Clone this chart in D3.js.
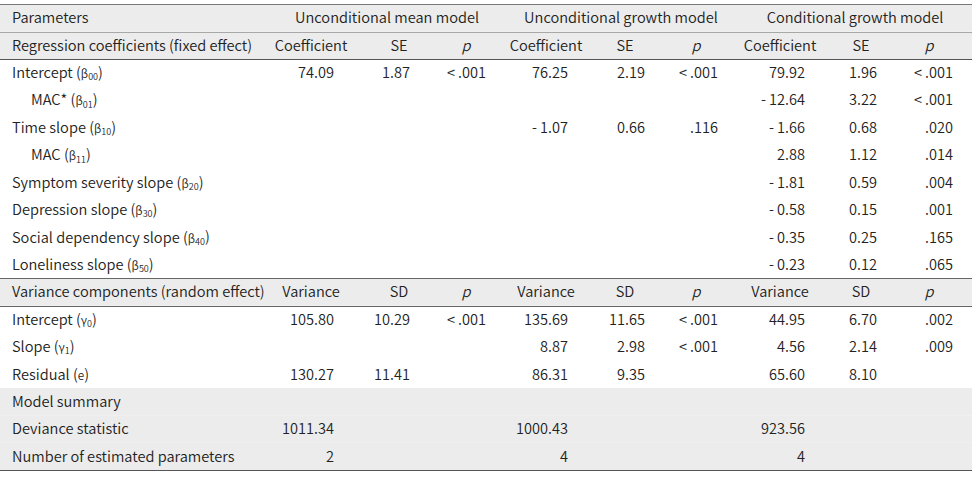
<!DOCTYPE html>
<html><head><meta charset="utf-8">
<script src="https://cdn.jsdelivr.net/npm/d3@7"></script>
<style>
html,body{margin:0;padding:0;background:#fff;}
svg text{font-family:"Noto Sans CJK KR","Noto Sans",sans-serif;fill:#222;font-weight:350;}
</style></head>
<body><svg id="t" width="972" height="477"></svg>
<script>
// ---- data ----
const groups = ["Unconditional mean model", "Unconditional growth model", "Conditional growth model"];
const fixedHeaders = ["Coefficient", "SE", "p"];
const randomHeaders = ["Variance", "SD", "p"];
const sectionLabels = ["Parameters", "Regression coefficients (fixed effect)", "Variance components (random effect)", "Model summary"];

const fixedLabels = ["Intercept", "MAC*", "Time slope", "MAC", "Symptom severity slope", "Depression slope", "Social dependency slope", "Loneliness slope"];
const fixedSymbols = ["β", "β", "β", "β", "β", "β", "β", "β"];
const fixedSubs = ["00", "01", "10", "11", "20", "30", "40", "50"];
const fixedIndent = [0, 1, 0, 1, 0, 0, 0, 0];
const fixedMean = [["74.09", "1.87", "<.001"], ["", "", ""], ["", "", ""], ["", "", ""], ["", "", ""], ["", "", ""], ["", "", ""], ["", "", ""]];
const fixedGrowth = [["76.25", "2.19", "<.001"], ["", "", ""], ["-1.07", "0.66", ".116"], ["", "", ""], ["", "", ""], ["", "", ""], ["", "", ""], ["", "", ""]];
const fixedCond = [["79.92", "1.96", "<.001"], ["-12.64", "3.22", "<.001"], ["-1.66", "0.68", ".020"], ["2.88", "1.12", ".014"], ["-1.81", "0.59", ".004"], ["-0.58", "0.15", ".001"], ["-0.35", "0.25", ".165"], ["-0.23", "0.12", ".065"]];

const randomLabels = ["Intercept", "Slope", "Residual"];
const randomSymbols = ["γ", "γ", "e"];
const randomSubs = ["0", "1", ""];
const randomMean = [["105.80", "10.29", "<.001"], ["", "", ""], ["130.27", "11.41", ""]];
const randomGrowth = [["135.69", "11.65", "<.001"], ["8.87", "2.98", "<.001"], ["86.31", "9.35", ""]];
const randomCond = [["44.95", "6.70", ".002"], ["4.56", "2.14", ".009"], ["65.60", "8.10", ""]];

const summaryLabels = ["Deviance statistic", "Number of estimated parameters"];
const summaryValues = [["1011.34", "1000.43", "923.56"], ["2", "4", "4"]];

// ---- layout ----
const svg = d3.select("#t");
const nRows = 2 + fixedLabels.length + 1 + randomLabels.length + 1 + summaryLabels.length;
const y = d3.scaleBand().domain(d3.range(nRows)).range([4.3, 470.2]);
const labelX = 12, indentX = 31;
// right edges of value columns, and centers of header labels
const valueRight = [334, 410, 486, 568, 645, 718, 805, 877, 953];
const headCenter = [311, 399, 466, 546, 625, 696, 780, 861, 929];
const groupCenter = [387, 621, 855];
const FS = 14.6;

function fmt(v) {
  if (v.startsWith("-")) return "-\u2009" + v.slice(1);
  if (v.startsWith("<")) return "<\u2009" + v.slice(1);
  return v;
}

// backgrounds
const grayRows = [0, 1, 2 + fixedLabels.length, nRows - 3, nRows - 2, nRows - 1];
svg.selectAll("rect.bg").data(grayRows).join("rect")
  .attr("x", 0).attr("width", 972)
  .attr("y", d => y(d)).attr("height", y.bandwidth())
  .attr("fill", "#ececec");

const yAt = i => (i >= nRows ? y.range()[1] : y(i));
const cy = i => y(i) + y.bandwidth() / 2;

function label(i, text, sym, sub, indent) {
  const t = svg.append("text").attr("x", indent ? indentX : labelX).attr("y", cy(i))
    .attr("dy", "0.36em").attr("font-size", FS).text(text);
  if (sym) {
    t.append("tspan").text(" (");
    t.append("tspan").attr("font-size", FS * 0.8).text(sym);
    if (sub) t.append("tspan").attr("font-size", FS * 0.62).attr("dy", "0.25em").text(sub);
    t.append("tspan").attr("dy", sub ? "-0.16em" : null).text(")");
  }
}

// header row 0
label(0, sectionLabels[0]);
svg.selectAll("text.grp").data(groups).join("text")
  .attr("x", (d, i) => groupCenter[i]).attr("y", cy(0)).attr("dy", "0.36em")
  .attr("text-anchor", "middle").attr("font-size", FS).text(d => d);

function headers(i, hdrs) {
  const all = [...hdrs, ...hdrs, ...hdrs];
  svg.selectAll(null).data(all).join("text")
    .attr("x", (d, k) => headCenter[k]).attr("y", cy(i)).attr("dy", "0.36em")
    .attr("text-anchor", "middle").attr("font-size", FS)
    .attr("font-style", d => d === "p" ? "italic" : null)
    .text(d => d);
}
function values(i, vals) {
  svg.selectAll(null).data(vals).join("text")
    .attr("x", (d, k) => valueRight[k]).attr("y", cy(i)).attr("dy", "0.36em")
    .attr("text-anchor", "end").attr("font-size", FS)
    .text(d => fmt(d));
}

label(1, sectionLabels[1]);
headers(1, fixedHeaders);
fixedLabels.forEach((l, k) => {
  const i = 2 + k;
  label(i, l, fixedSymbols[k], fixedSubs[k], fixedIndent[k]);
  values(i, [...fixedMean[k], ...fixedGrowth[k], ...fixedCond[k]]);
});
const rv = 2 + fixedLabels.length;
label(rv, sectionLabels[2]);
headers(rv, randomHeaders);
randomLabels.forEach((l, k) => {
  const i = rv + 1 + k;
  label(i, l, randomSymbols[k], randomSubs[k], 0);
  values(i, [...randomMean[k], ...randomGrowth[k], ...randomCond[k]]);
});
const ms = rv + 1 + randomLabels.length;
label(ms, sectionLabels[3]);
summaryLabels.forEach((l, k) => {
  const i = ms + 1 + k;
  label(i, l);
  const v = summaryValues[k];
  values(i, [v[0], "", "", v[1], "", "", v[2], "", ""]);
});

// rules
const rules = [
  {r: 0, c: "#777"}, {r: 1, c: "#a8a8a8"}, {r: 2, c: "#555"},
  {r: rv, c: "#666"}, {r: rv + 1, c: "#666"}, {r: nRows, c: "#555"}
];
svg.selectAll("line.rule").data(rules).join("line")
  .attr("x1", 0).attr("x2", 972)
  .attr("y1", d => Math.round(yAt(d.r)) + 0.5).attr("y2", d => Math.round(yAt(d.r)) + 0.5)
  .attr("stroke", d => d.c).attr("stroke-width", 1.2);
</script></body></html>
